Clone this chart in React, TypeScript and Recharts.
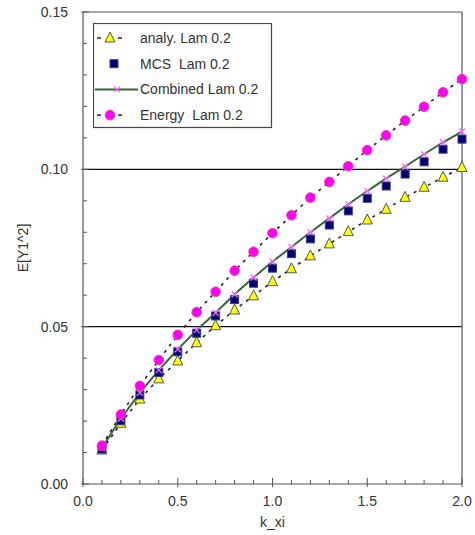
import { ComposedChart, Line, XAxis, YAxis, ReferenceLine, Legend } from 'recharts';

const kXi = [0.1, 0.2, 0.3, 0.4, 0.5, 0.6, 0.7, 0.8, 0.9, 1.0, 1.1, 1.2, 1.3, 1.4, 1.5, 1.6, 1.7, 1.8, 1.9, 2.0];
const analy = [0.0108, 0.0193, 0.027, 0.0334, 0.0391, 0.0449, 0.0503, 0.0553, 0.0598, 0.0643, 0.0684, 0.0725, 0.0763, 0.0802, 0.0839, 0.0873, 0.0911, 0.0943, 0.0975, 0.1006];
const mcs = [0.0111, 0.0201, 0.0283, 0.0354, 0.042, 0.0479, 0.0534, 0.0586, 0.0638, 0.0686, 0.0732, 0.0779, 0.0823, 0.0868, 0.0908, 0.0947, 0.0985, 0.1024, 0.1064, 0.1096];
const combined = [0.0115, 0.0208, 0.029, 0.0362, 0.0428, 0.0489, 0.0544, 0.0603, 0.0656, 0.0707, 0.0753, 0.08, 0.0844, 0.0889, 0.0931, 0.0971, 0.1009, 0.1048, 0.1086, 0.112];
const energy = [0.0122, 0.0221, 0.0312, 0.0394, 0.0474, 0.0546, 0.0611, 0.0678, 0.0738, 0.0797, 0.0854, 0.091, 0.096, 0.101, 0.1061, 0.1108, 0.1155, 0.1199, 0.1245, 0.1287];

const xTicks = [0, 0.1, 0.2, 0.3, 0.4, 0.5, 0.6, 0.7, 0.8, 0.9, 1.0, 1.1, 1.2, 1.3, 1.4, 1.5, 1.6, 1.7, 1.8, 1.9, 2.0];
const xLabelTicks = [0, 0.5, 1.0, 1.5, 2.0];
const yTicks = [0, 0.01, 0.02, 0.03, 0.04, 0.05, 0.06, 0.07, 0.08, 0.09, 0.1, 0.11, 0.12, 0.13, 0.14, 0.15];
const yLabelTicks = [0, 0.05, 0.1, 0.15];
const gridValues = [0.05, 0.1];

const seriesNames = ['analy. Lam 0.2', 'MCS  Lam 0.2', 'Combined Lam 0.2', 'Energy  Lam 0.2'];

const data = kXi.map((x, i) => ({
  x,
  analy: analy[i],
  mcs: mcs[i],
  combined: combined[i],
  energy: energy[i],
}));

const FONT = '"Liberation Sans", Arial, sans-serif';
const AXIS = '#555';
const TEXT = '#333';

const isIn = (list: number[], v: number) => list.some((t) => Math.abs(t - v) < 1e-6);

function XTick(props: any) {
  const { x, y, payload } = props;
  const major = isIn(xLabelTicks, payload.value);
  return (
    <g>
      <line x1={x} x2={x} y1={y - (major ? 6 : 4)} y2={major ? y + 3 : y} stroke={AXIS} strokeWidth={1} />
      {major && (
        <text x={x} y={y + 22} textAnchor="middle" fontSize={14} fontFamily={FONT} fill={TEXT}>
          {payload.value.toFixed(1)}
        </text>
      )}
    </g>
  );
}

function YTick(props: any) {
  const { x, y, payload } = props;
  const major = isIn(yLabelTicks, payload.value);
  return (
    <g>
      <line x1={major ? x - 2 : x} x2={x + (major ? 6 : 4)} y1={y} y2={y} stroke={AXIS} strokeWidth={1} />
      {major && (
        <text x={x - 15} y={y + 5} textAnchor="end" fontSize={14} fontFamily={FONT} fill={TEXT}>
          {payload.value.toFixed(2)}
        </text>
      )}
    </g>
  );
}

function YLabel(props: any) {
  const vb = props.viewBox || { x: 0, y: 12, width: 83, height: 472 };
  const cx = 23;
  const cy = vb.y + vb.height / 2;
  return (
    <text
      x={cx}
      y={cy}
      transform={`rotate(-90 ${cx} ${cy})`}
      textAnchor="middle"
      dominantBaseline="central"
      fontSize={14}
      fontFamily={FONT}
      fill={TEXT}
    >
      E[Y1^2]
    </text>
  );
}

const Triangle = ({ cx, cy }: { cx: number; cy: number }) => (
  <polygon
    points={`${cx},${cy - 6} ${cx - 5},${cy + 4} ${cx + 5},${cy + 4}`}
    fill="#ffff00"
    stroke="#555"
    strokeWidth={1}
  />
);

const Square = ({ cx, cy }: { cx: number; cy: number }) => (
  <rect x={cx - 4} y={cy - 4} width={8} height={8} fill="#000070" stroke="#3a3a8a" strokeWidth={1} />
);

const Cross = ({ cx, cy }: { cx: number; cy: number }) => (
  <g stroke="#ff66ff" strokeWidth={1.3}>
    <line x1={cx - 3} y1={cy - 3} x2={cx + 3} y2={cy + 3} />
    <line x1={cx - 3} y1={cy + 3} x2={cx + 3} y2={cy - 3} />
  </g>
);

const Circle = ({ cx, cy }: { cx: number; cy: number }) => (
  <circle cx={cx} cy={cy} r={4.8} fill="#ff00ff" stroke="#ff3399" strokeWidth={1} />
);

function LegendBox() {
  const rows = [
    { name: seriesNames[0], kind: 'analy' },
    { name: seriesNames[1], kind: 'mcs' },
    { name: seriesNames[2], kind: 'combined' },
    { name: seriesNames[3], kind: 'energy' },
  ];
  return (
    <svg width={180} height={106} style={{ display: 'block' }}>
      <rect x={0.5} y={0.5} width={178} height={104} fill="#fff" stroke="#444" strokeWidth={1.2} />
      {rows.map((r, i) => {
        const cy = 15 + i * 25.7;
        return (
          <g key={r.kind}>
            {(r.kind === 'analy' || r.kind === 'energy') && (
              <g stroke="#222" strokeWidth={1.5}>
                <line x1={4} x2={8} y1={cy} y2={cy} />
                <line x1={25} x2={29} y1={cy} y2={cy} />
              </g>
            )}
            {r.kind === 'combined' && <line x1={2} x2={45} y1={cy} y2={cy} stroke="#336633" strokeWidth={2} />}
            {r.kind === 'analy' && <Triangle cx={17} cy={cy} />}
            {r.kind === 'mcs' && <Square cx={21} cy={cy} />}
            {r.kind === 'combined' && <Cross cx={24} cy={cy} />}
            {r.kind === 'energy' && <Circle cx={17} cy={cy} />}
            <text x={47} y={cy + 5} fontSize={14} fontFamily={FONT} fill={TEXT} xmlSpace="preserve">
              {r.name}
            </text>
          </g>
        );
      })}
    </svg>
  );
}

export default function App() {
  return (
    <div style={{ position: 'absolute', left: 0, top: 0, background: '#fff' }}>
      <ComposedChart width={475} height={535} data={data} margin={{ top: 12, right: 13, left: 0, bottom: 0 }}>
        <XAxis
          type="number"
          dataKey="x"
          domain={[0, 2]}
          ticks={xTicks}
          interval={0}
          height={51}
          tickSize={0}
          tickMargin={0}
          tick={<XTick />}
          axisLine={{ stroke: AXIS, strokeWidth: 1.2 }}
          label={{ value: 'k_xi', position: 'insideBottom', offset: 8, fontSize: 14, fontFamily: FONT, fill: TEXT }}
        />
        <YAxis
          type="number"
          domain={[0, 0.15]}
          ticks={yTicks}
          interval={0}
          width={83}
          tickSize={0}
          tickMargin={0}
          tick={<YTick />}
          axisLine={{ stroke: AXIS, strokeWidth: 1.2 }}
          label={<YLabel />}
        />
        {gridValues.map((g) => (
          <ReferenceLine key={g} y={g} stroke="#111" strokeWidth={1.2} />
        ))}
        <ReferenceLine y={0.15} stroke={AXIS} strokeWidth={1.2} />
        <ReferenceLine x={2} stroke={AXIS} strokeWidth={1.2} />
        <Legend
          layout="vertical"
          align="center"
          verticalAlign="middle"
          wrapperStyle={{ left: 93, top: 23, width: 180, height: 106 }}
          content={() => <LegendBox />}
        />
        <Line
          dataKey="analy"
          name={seriesNames[0]}
          stroke="#222"
          strokeWidth={1.6}
          strokeDasharray="3 5"
          isAnimationActive={false}
          dot={(p: any) => <Triangle key={`a${p.index}`} cx={p.cx} cy={p.cy} />}
          activeDot={false}
        />
        <Line
          dataKey="mcs"
          name={seriesNames[1]}
          stroke="none"
          isAnimationActive={false}
          dot={(p: any) => <Square key={`m${p.index}`} cx={p.cx} cy={p.cy} />}
          activeDot={false}
        />
        <Line
          dataKey="combined"
          name={seriesNames[2]}
          stroke="#336633"
          strokeWidth={2}
          isAnimationActive={false}
          dot={(p: any) => <Cross key={`c${p.index}`} cx={p.cx} cy={p.cy} />}
          activeDot={false}
        />
        <Line
          dataKey="energy"
          name={seriesNames[3]}
          stroke="#222"
          strokeWidth={1.6}
          strokeDasharray="3 5"
          isAnimationActive={false}
          dot={(p: any) => <Circle key={`e${p.index}`} cx={p.cx} cy={p.cy} />}
          activeDot={false}
        />
      </ComposedChart>
    </div>
  );
}
